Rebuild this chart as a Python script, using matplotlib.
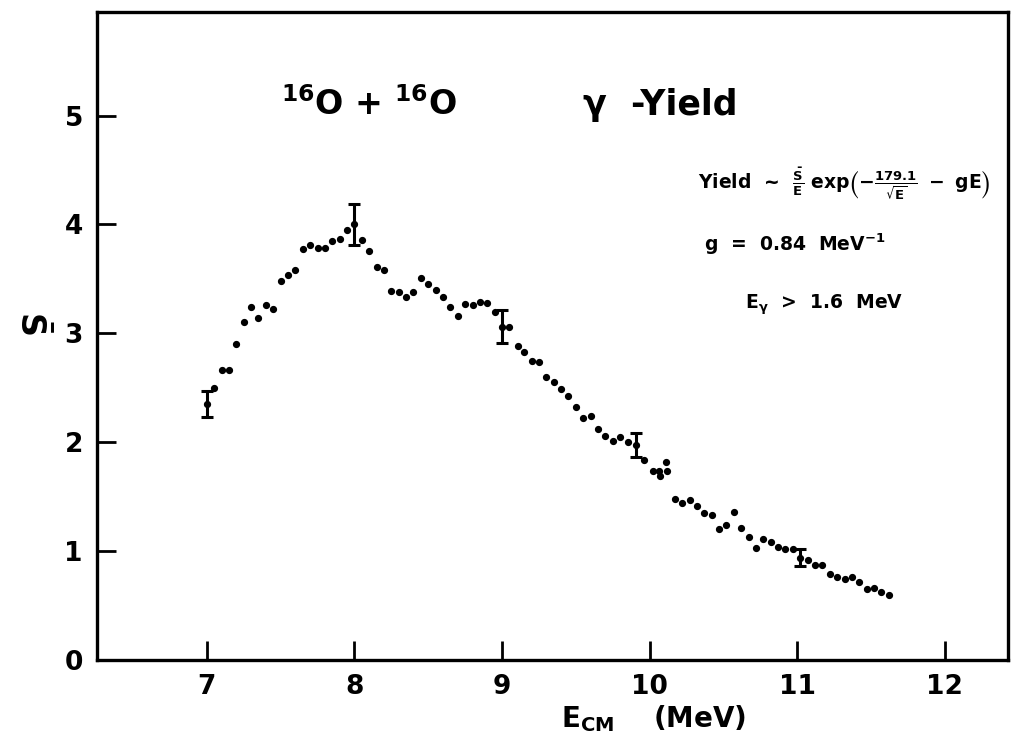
import matplotlib
matplotlib.use("Agg")
import matplotlib.pyplot as plt

# S-factor points
energy = [7.05, 7.10, 7.15, 7.20, 7.25, 7.30, 7.35, 7.40, 7.45, 7.50,
          7.55, 7.60, 7.65, 7.70, 7.75, 7.80, 7.85, 7.90, 7.95, 8.05,
          8.10, 8.15, 8.20, 8.25, 8.30, 8.35, 8.40, 8.45, 8.50, 8.55,
          8.60, 8.65, 8.70, 8.75, 8.80, 8.85, 8.90, 8.95, 9.05, 9.11,
          9.15, 9.20, 9.25, 9.30, 9.35, 9.40, 9.45, 9.50, 9.55, 9.60,
          9.65, 9.70, 9.75, 9.80, 9.85, 9.96, 10.02, 10.06, 10.07, 10.11,
          10.12, 10.17, 10.22, 10.27, 10.32, 10.37, 10.42, 10.47, 10.52, 10.57,
          10.62, 10.67, 10.72, 10.77, 10.82, 10.87, 10.92, 10.97, 11.07, 11.12,
          11.17, 11.22, 11.27, 11.32, 11.37, 11.42, 11.47, 11.52, 11.57, 11.62]
sfactor = [2.50, 2.66, 2.66, 2.90, 3.10, 3.24, 3.14, 3.26, 3.22, 3.48,
           3.54, 3.58, 3.77, 3.81, 3.78, 3.78, 3.85, 3.87, 3.95, 3.86,
           3.76, 3.61, 3.58, 3.39, 3.38, 3.33, 3.38, 3.51, 3.45, 3.40,
           3.33, 3.24, 3.16, 3.27, 3.26, 3.29, 3.28, 3.20, 3.06, 2.88,
           2.83, 2.75, 2.74, 2.60, 2.55, 2.49, 2.42, 2.32, 2.22, 2.24,
           2.12, 2.06, 2.01, 2.05, 2.00, 1.84, 1.74, 1.74, 1.69, 1.82,
           1.74, 1.48, 1.44, 1.47, 1.41, 1.35, 1.33, 1.20, 1.24, 1.36,
           1.21, 1.13, 1.03, 1.11, 1.08, 1.04, 1.02, 1.02, 0.92, 0.87,
           0.87, 0.79, 0.76, 0.74, 0.76, 0.72, 0.65, 0.66, 0.62, 0.60]

# points that carry error bars
errEnergy = [7.00, 8.00, 9.00, 9.91, 11.02]
errS = [2.35, 4.00, 3.06, 1.97, 0.94]
errSize = [0.12, 0.19, 0.15, 0.11, 0.075]

xTicks = [7, 8, 9, 10, 11, 12]
yTicks = [0, 1, 2, 3, 4, 5]

plt.rcParams["font.family"] = "DejaVu Sans"
plt.rcParams["font.weight"] = "bold"
plt.rcParams["axes.labelweight"] = "bold"
plt.rcParams["mathtext.fontset"] = "dejavusans"
plt.rcParams["mathtext.default"] = "bf"

def main():
	fig = plt.figure(figsize=(10.3, 7.56), dpi=100)
	ax = fig.add_axes([0.094, 0.127, 0.885, 0.857])

	ax.plot(energy, sfactor, linestyle="none", marker="o", markersize=4.2, color="black")
	ax.errorbar(errEnergy, errS, yerr=errSize, fmt="o", markersize=4.2, color="black",
				ecolor="black", elinewidth=2.2, capsize=4, capthick=2.2)

	ax.set_xlim(6.255, 12.43)
	ax.set_ylim(0, 5.95)
	ax.set_xticks(xTicks)
	ax.set_yticks(yTicks)
	ax.tick_params(direction="in", length=14, width=2, labelsize=19, pad=10,
				   top=False, right=False)
	for side in ax.spines.values():
		side.set_linewidth(2.4)

	ax.text(7.5, 5.1, r"$^{16}$O + $^{16}$O", fontsize=24, ha="left", va="center")
	ax.text(9.55, 5.1, "\u03b3  -Yield", fontsize=25, ha="left", va="center")
	ax.text(10.33, 4.37, r"Yield  ~  $\frac{\bar{S}}{E}$ exp$\left(-\frac{179.1}{\sqrt{E}}\ -\ gE\right)$",
			fontsize=13.5, ha="left", va="center")
	ax.text(10.37, 3.82, r"g  =  0.84  MeV$^{-1}$", fontsize=13.5, ha="left", va="center")
	ax.text(10.645, 3.26, r"E$_{\gamma}$  >  1.6  MeV", fontsize=13.5, ha="left", va="center")

	ax.set_ylabel(r"$\bar{S}$", fontsize=24, rotation=270, va="center", ha="center")
	ax.yaxis.set_label_coords(-0.072, 0.52)
	ax.set_xlabel(r"E$_{CM}$    (MeV)", fontsize=20)
	ax.xaxis.set_label_coords(0.611, -0.066)

	fig.savefig("out.png", dpi=100)

if __name__ == '__main__':
	main()
